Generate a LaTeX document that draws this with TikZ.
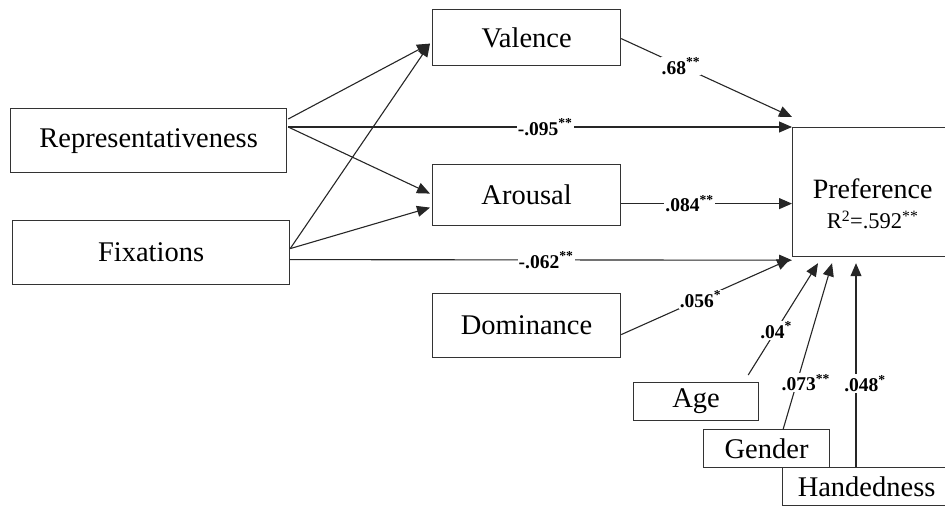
\documentclass[tikz,border=0pt]{standalone}
\usepackage{fontspec}
\setmainfont{Liberation Serif}
\usetikzlibrary{arrows.meta,calc}
\begin{document}
\begin{tikzpicture}[x=1pt,y=-1pt,
  box/.style={draw=black!80,line width=1.2pt,rectangle,inner sep=0pt,anchor=north west,
              font=\fontsize{28.5}{32}\selectfont},
  link/.style={draw=black!85,line width=1.1pt,-{Triangle[length=13pt,width=11pt]}},
  coef/.style={fill=white,inner sep=1pt,font=\fontsize{19.5}{21}\selectfont\bfseries}]
\useasboundingbox (0,0) rectangle (945,506);

% exogenous variables
\node[box,minimum width=276pt,minimum height=64pt] (rep) at (10,108) {Representativeness};
\node[box,minimum width=277pt,minimum height=64pt] (fix) at (12,220) {Fixations};

% mediators
\node[box,minimum width=188pt,minimum height=56pt] (val) at (432,9) {Valence};
\node[box,minimum width=188pt,minimum height=61pt] (aro) at (432,164) {Arousal};
\node[box,minimum width=188pt,minimum height=64pt] (dom) at (432,293) {Dominance};

% outcome
\node[box,minimum width=163pt,minimum height=129pt] (pref) at (792,127) {};
\node[font=\fontsize{28}{31}\selectfont,align=center,inner sep=0pt] (preftext)
  at ($(pref.center)+(-1.5,12)$)
  {Preference\\[-1pt]{\fontsize{22.5}{25}\selectfont R\textsuperscript{2}=.592\textsuperscript{**}}};

% controls
\node[box,minimum width=125pt,minimum height=38pt] (age) at (633,382) {Age};
\node[box,minimum width=126pt,minimum height=38pt] (gen) at (703,429) {Gender};
\node[box,minimum width=168pt,minimum height=38pt] (hand) at (782,467) {Handedness};

% paths into the mediators
\draw[link] ($(rep.north east)+(1,11)$) -- ($(val.west)+(-2,6)$);
\draw[link] ($(rep.north east)+(1,19)$) -- ($(aro.west)+(-2,-1.5)$);
\draw[link] ($(fix.east)+(0,-4)$) -- ($(val.west)+(-2,6)$);
\draw[link] ($(fix.east)+(0,-4)$) -- ($(aro.west)+(-2,12.5)$);

% direct paths to preference
\draw[link] ($(rep.north east)+(1,19)$) -- node[coef,pos=0.51] {-.095\textsuperscript{**}} (pref.north west);
\draw[link] ($(fix.east)+(0,7)$) -- node[coef,pos=0.51] {-.062\textsuperscript{**}} ($(pref.south west)+(0,3)$);
\draw[link] ($(val.east)+(0,1)$) -- node[coef,pos=0.35] {.68\textsuperscript{**}} ($(pref.north west)+(0,-10)$);
\draw[link] ($(aro.east)+(0,8.5)$) -- node[coef,pos=0.4] {.084\textsuperscript{**}} ($(aro.east -| pref.west)+(0,8.5)$);
\draw[link] ($(dom.east)+(0,9)$) -- node[coef,pos=0.47] {.056\textsuperscript{*}} ($(pref.south west)+(-2,2)$);

% control paths
\draw[link] ($(age.north east)+(-11,-7)$) -- node[coef,pos=0.4] {.04\textsuperscript{*}} ($(pref.south west)+(26,6)$);
\draw[link] ($(gen.north east)+(-47,0)$) -- node[coef,pos=0.28,xshift=9pt] {.073\textsuperscript{**}} ($(pref.south west)+(40,6)$);
\draw[link] ($(hand.north west)+(74,0)$) -- node[coef,pos=0.41,xshift=9pt] {.048\textsuperscript{*}} ($(pref.south west)+(64,6)$);
\end{tikzpicture}
\end{document}
